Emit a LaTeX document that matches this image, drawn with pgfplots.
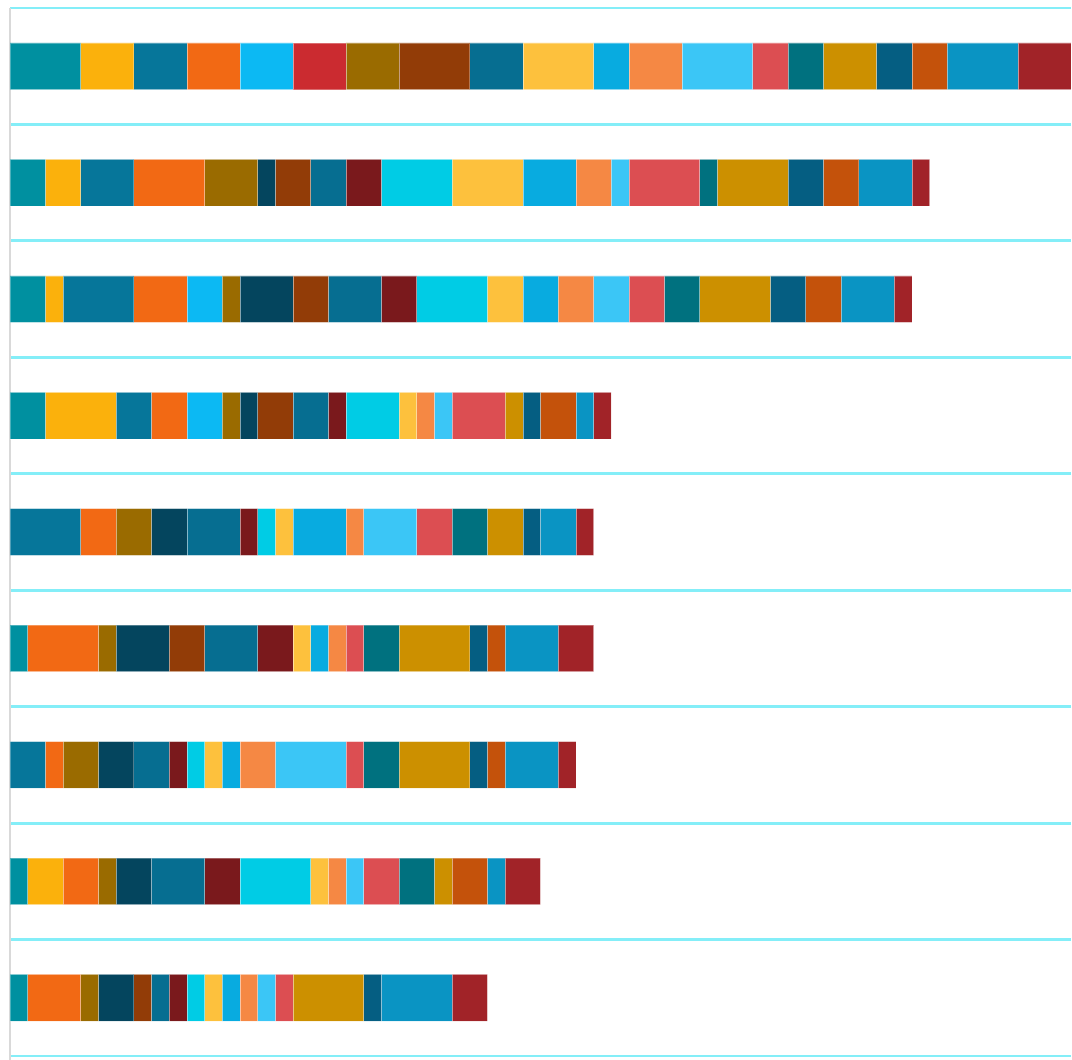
\documentclass[border=0pt]{standalone}
\usepackage{pgfplots}
\usepackage{pgfplotstable}
\pgfplotsset{compat=1.18}

% segment colours, in stacking order
\definecolor{cT}{HTML}{0090A0}
\definecolor{cA}{HTML}{FBB10C}
\definecolor{cBa}{HTML}{06769A}
\definecolor{cO}{HTML}{F26914}
\definecolor{cS}{HTML}{0CB9F3}
\definecolor{cR}{HTML}{CB2B30}
\definecolor{cOL}{HTML}{9A6B00}
\definecolor{cN}{HTML}{04455E}
\definecolor{cBR}{HTML}{923C07}
\definecolor{cBb}{HTML}{066E91}
\definecolor{cM}{HTML}{7A191C}
\definecolor{cC}{HTML}{00CCE5}
\definecolor{cY}{HTML}{FDC13D}
\definecolor{cLB}{HTML}{08ABE0}
\definecolor{cLO}{HTML}{F58844}
\definecolor{cLS}{HTML}{3BC6F6}
\definecolor{cCO}{HTML}{DC4E52}
\definecolor{cDT}{HTML}{00717F}
\definecolor{cG}{HTML}{CC9000}
\definecolor{cDB}{HTML}{055E82}
\definecolor{cRU}{HTML}{C4520B}
\definecolor{cBc}{HTML}{0A94C3}
\definecolor{cDR}{HTML}{A12328}
\definecolor{gridcyan}{HTML}{84EEF8}

\pgfplotstableread{
y T A Ba O S R OL N BR Bb M C Y LB LO LS CO DT G DB RU Bc DR
9 4 3 3 3 3 3 3 0 4 3 0 0 4 2 3 4 2 2 3 2 2 4 3
8 2 2 3 4 0 0 3 1 2 2 2 4 4 3 2 1 4 1 4 2 2 3 1
7 2 1 4 3 2 0 1 3 2 3 2 4 2 2 2 2 2 2 4 2 2 3 1
6 2 4 2 2 2 0 1 1 2 2 1 3 1 0 1 1 3 0 1 1 2 1 1
5 0 0 4 2 0 0 2 2 0 3 1 1 1 3 1 3 2 2 2 1 0 2 1
4 1 0 0 4 0 0 1 3 2 3 2 0 1 1 1 0 1 2 4 1 1 3 2
3 0 0 2 1 0 0 2 2 0 2 1 1 1 1 2 4 1 2 4 1 1 3 1
2 1 2 0 2 0 0 1 2 0 3 2 4 1 0 1 1 2 2 1 0 2 1 2
1 1 0 0 3 0 0 1 2 1 1 1 1 1 1 1 1 1 0 4 1 0 4 2
}\rows

\begin{document}
\begin{tikzpicture}
\useasboundingbox (-5pt,-2pt) rectangle (531pt,528pt);
\begin{axis}[
    xbar stacked,
    bar width=0.4,
    scale only axis,
    width=530.5pt, height=524pt,
    xmin=0, xmax=60,
    ymin=0.5, ymax=9.5,
    axis x line=none,
    axis y line*=left,
    axis line style={draw=black!15, line width=1pt, shorten <=-2pt},
    ytick={0.5,1.5,...,9.5},
    yticklabels={},
    major tick length=0pt,
    ymajorgrids,
    major grid style={draw=gridcyan, line width=1.4pt},
    every axis plot/.append style={draw=white, draw opacity=0.3, line width=0.3pt},
]
\foreach \s in {T,A,Ba,O,S,R,OL,N,BR,Bb,M,C,Y,LB,LO,LS,CO,DT,G,DB,RU,Bc,DR} {
    \edef\tmp{\noexpand\addplot[fill=c\s] table[x=\s, y=y] {\noexpand\rows};}
    \tmp
}
\end{axis}
\end{tikzpicture}
\end{document}
